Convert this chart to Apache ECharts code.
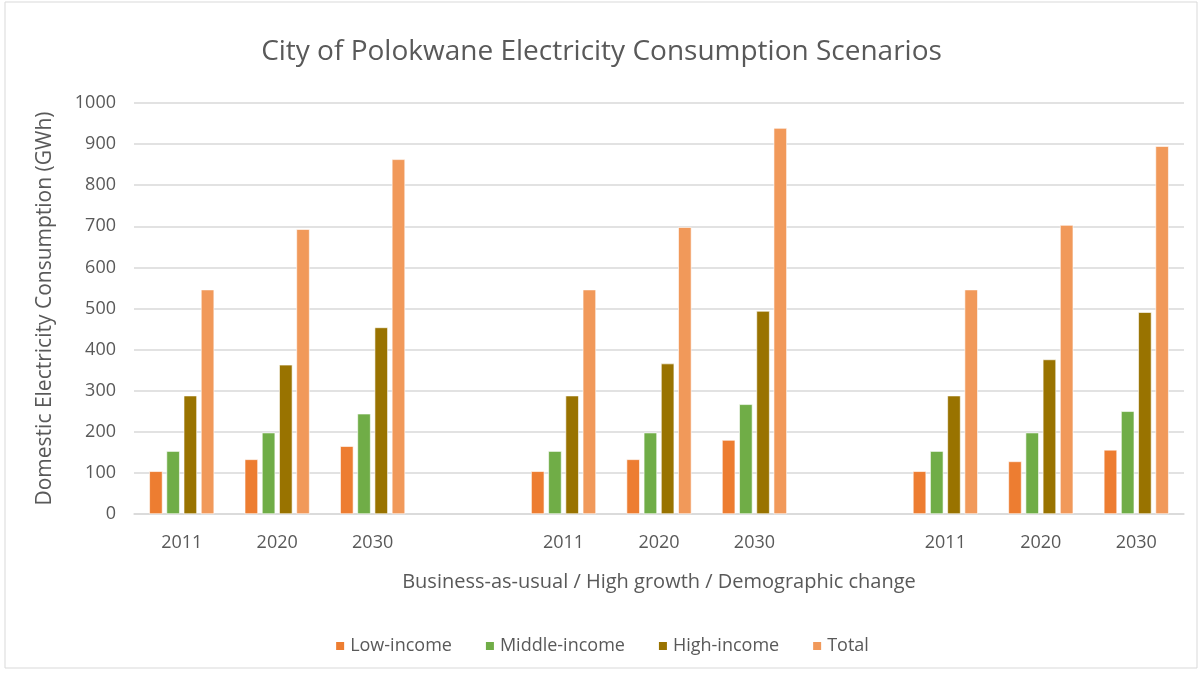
<!DOCTYPE html>
<html>
<head>
    <meta charset="utf-8" />
    <title>ECharts</title>
    <style>
        html, body { margin: 0; padding: 0; background: #fff; }
        #main { width: 1203px; height: 675px; }
    </style>
</head>
<body>
    <div id="main"></div>
</body>
<script src="https://cdn.jsdelivr.net/npm/echarts@6/dist/echarts.min.js"></script>
<script type="text/javascript">
    // three scenario groups, an empty slot between them
    var years = ['2011', '2020', '2030', '', '2011', '2020', '2030', '', '2011', '2020', '2030'];
    var lowIncome = [104, 133, 165, null, 104, 133, 180, null, 104, 128, 156];
    var middleIncome = [153, 198, 244, null, 153, 198, 267, null, 153, 198, 250];
    var highIncome = [288, 363, 454, null, 288, 366, 494, null, 288, 376, 491];
    var total = [546, 693, 863, null, 546, 698, 939, null, 546, 703, 895];

    var txt = '#595959';
    var font = 'Open Sans';

    var chartDom = document.getElementById('main');
    var myChart = echarts.init(chartDom);
    var option;

    function bar(name, data, color) {
        return {
            name: name,
            type: 'bar',
            data: data,
            barGap: '30%',
            barCategoryGap: '32%',
            itemStyle: { color: color, borderColor: '#fff', borderWidth: 0.6 }
        };
    }

    option = {
        backgroundColor: '#fff',
        textStyle: { fontFamily: font },
        title: {
            text: 'City of Polokwane Electricity Consumption Scenarios',
            left: 'center',
            top: 33,
            textStyle: { color: txt, fontSize: 28, fontWeight: 'normal', fontFamily: font }
        },
        graphic: [{
            type: 'rect',
            shape: { x: 5, y: 2, width: 1192, height: 666 },
            style: { fill: 'none', stroke: '#d9d9d9', lineWidth: 1 },
            silent: true
        }],
        legend: {
            bottom: 15,
            left: 'center',
            itemWidth: 10,
            itemHeight: 10,
            itemGap: 32,
            icon: 'rect',
            textStyle: { color: txt, fontSize: 18, fontFamily: font },
            data: ['Low-income', 'Middle-income', 'High-income', 'Total']
        },
        grid: { left: 134, right: 19, top: 103, bottom: 161 },
        xAxis: {
            type: 'category',
            data: years,
            name: 'Business-as-usual / High growth / Demographic change',
            nameLocation: 'middle',
            nameGap: 58,
            nameTextStyle: { color: txt, fontSize: 20 },
            axisLine: { lineStyle: { color: '#d9d9d9', width: 1.5 } },
            axisTick: { show: false },
            axisLabel: { color: txt, fontSize: 18, margin: 20, interval: 0 }
        },
        yAxis: {
            type: 'value',
            min: 0,
            max: 1000,
            interval: 100,
            name: 'Domestic Electricity Consumption (GWh)',
            nameLocation: 'middle',
            nameGap: 78,
            nameTextStyle: { color: txt, fontSize: 21 },
            axisLine: { show: false },
            axisTick: { show: false },
            axisLabel: {
                color: txt, fontSize: 18, margin: 18,
                formatter: function (v) { return String(v); }
            },
            splitLine: { lineStyle: { color: '#d9d9d9', width: 1.5 } }
        },
        series: [
            bar('Low-income', lowIncome, '#ED7D31'),
            bar('Middle-income', middleIncome, '#70AD47'),
            bar('High-income', highIncome, '#997300'),
            bar('Total', total, '#F1995A')
        ]
    };

    option && myChart.setOption(option);
</script>
</html>
